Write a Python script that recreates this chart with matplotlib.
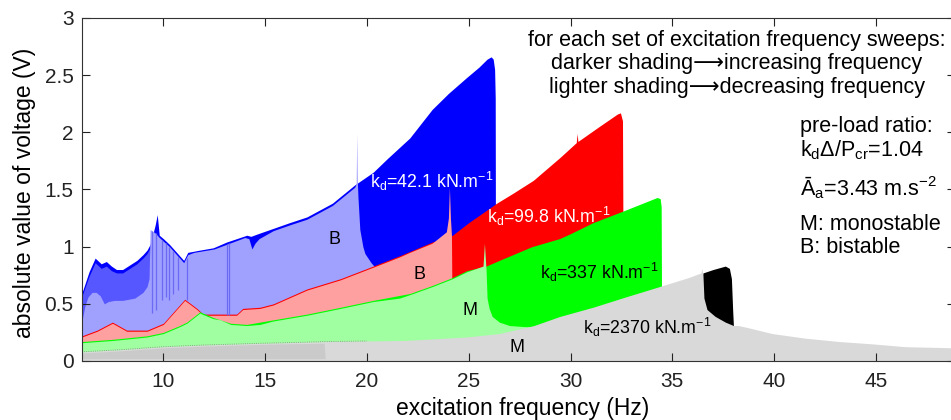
import numpy as np
import matplotlib
matplotlib.use("Agg")
import matplotlib.pyplot as plt

plt.rcParams['font.family'] = ['Liberation Sans', 'DejaVu Sans']
plt.rcParams['font.size'] = 14

# envelopes of |V| for each stiffness: "up" = increasing-frequency sweep, "down" = decreasing
# kd = 42.1 kN/m
blue_up_f = [6.0, 6.05, 6.35, 6.65, 6.95, 7.2, 7.45, 7.7, 8.0, 8.35, 8.7, 9.0, 9.2, 9.35, 9.5, 9.6,
             9.7, 9.8, 10.0, 10.3, 10.7, 11.0, 11.2, 11.8, 12.45, 13.1, 14.1, 14.3, 14.6, 15.4, 16.2,
             17.05, 18.3, 19.4, 20.3, 21.0, 22.1, 23.2, 24.0, 24.9, 25.5, 25.9, 26.1, 26.2, 26.27,
             26.3, 26.32]
blue_up_v = [0.60, 0.62, 0.78, 0.90, 0.85, 0.87, 0.83, 0.80, 0.80, 0.84, 0.88, 0.93, 0.97, 1.02, 1.12, 1.19,
             1.28, 1.10, 1.07, 1.02, 0.94, 0.88, 0.95, 0.97, 0.99, 1.04, 1.10, 1.09, 1.11, 1.16, 1.21,
             1.26, 1.38, 1.54, 1.65, 1.77, 1.95, 2.20, 2.34, 2.48, 2.57, 2.64, 2.66, 2.64, 2.55,
             2.30, 0.0]
# oscillating part of the down sweep below 9.35 Hz (drawn half-transparent)
blue_band_f = [6.0, 6.05, 6.35, 6.65, 6.95, 7.2, 7.45, 7.7, 8.0, 8.35, 8.7, 9.0, 9.2, 9.35]
blue_band_v = [0.57, 0.59, 0.74, 0.86, 0.81, 0.83, 0.79, 0.77, 0.77, 0.81, 0.85, 0.90, 0.94, 0.99]
blue_down_f = [6.0, 6.15, 6.3, 6.5, 6.7, 6.9, 7.1, 7.3, 7.6, 8.0, 8.6, 9.0, 9.2, 9.3, 9.35, 9.6,
               9.8, 10.3, 10.7, 11.0, 11.2, 11.5, 12.5, 13.1, 14.0, 14.2, 14.35, 14.5, 14.7, 15.4, 16.2,
               17.05, 18.3, 19.4, 19.47, 19.5, 19.53, 19.56, 19.65, 19.8, 19.9, 20.2, 20.5, 21.0, 21.5]
blue_down_v = [0.35, 0.48, 0.56, 0.60, 0.60, 0.57, 0.50, 0.52, 0.53, 0.53, 0.55, 0.60, 0.65, 0.72, 1.15, 1.12,
               1.08, 1.00, 0.92, 0.86, 0.93, 0.95, 0.98, 1.02, 1.08, 1.07, 0.98, 1.03, 1.07, 1.14, 1.19,
               1.24, 1.36, 1.52, 1.55, 1.99, 1.56, 1.43, 1.15, 1.00, 0.94, 0.86, 0.80, 0.70, 0.0]
# drop-outs in the down sweep
blue_drop_f = [9.43, 9.64, 9.92, 10.13, 10.29, 10.49, 10.74, 11.15, 13.11, 13.24]
blue_drop_lo = [0.42, 0.45, 0.53, 0.56, 0.53, 0.59, 0.62, 0.53, 0.40, 0.40]
blue_drop_hi = [1.14, 1.12, 1.06, 1.03, 1.00, 0.96, 0.91, 0.90, 1.02, 1.03]

# kd = 99.8 kN/m
red_up_f = [6.0, 6.75, 7.5, 8.2, 9.2, 10.0, 10.65, 11.05, 11.65, 11.95, 13.6, 13.9, 14.75, 15.4, 17.05,
            18.7, 20.3, 21.6, 23.2, 24.2, 25.0, 26.37, 27.2, 28.17, 29.48, 30.28, 30.32, 30.36, 31.4,
            32.3, 32.45, 32.55, 32.6]
red_up_v = [0.22, 0.27, 0.34, 0.27, 0.27, 0.33, 0.46, 0.54, 0.46, 0.41, 0.41, 0.46, 0.47, 0.50, 0.63,
            0.72, 0.83, 0.92, 1.04, 1.10, 1.21, 1.38, 1.47, 1.58, 1.78, 1.91, 1.99, 1.92, 2.05,
            2.16, 2.17, 2.10, 0.0]
red_down_f = [6.0, 6.75, 7.5, 8.2, 9.2, 10.0, 10.65, 11.05, 11.65, 11.95, 12.8, 13.6, 13.9, 14.75, 15.4,
              17.05, 18.7, 20.3, 21.6, 22.1, 23.2, 23.9, 24.0, 24.05, 24.1, 24.15, 24.2]
red_down_v = [0.21, 0.26, 0.33, 0.26, 0.26, 0.32, 0.45, 0.53, 0.45, 0.40, 0.40, 0.40, 0.45, 0.46, 0.49,
              0.62, 0.71, 0.82, 0.91, 0.95, 1.03, 1.13, 1.25, 1.52, 1.25, 1.10, 0.0]

# kd = 337 kN/m
green_up_f = [6.0, 7.55, 9.2, 10.0, 10.8, 11.15, 11.8, 12.45, 13.3, 14.1, 15.4, 17.05, 18.7, 20.3,
              22.1, 23.2, 24.2, 24.9, 25.85, 26.5, 27.3, 28.1, 29.45, 29.95, 31.1, 32.7, 34.25, 34.4,
              34.45, 34.48]
green_up_v = [0.17, 0.19, 0.22, 0.25, 0.31, 0.34, 0.43, 0.38, 0.33, 0.32, 0.36, 0.41, 0.47, 0.53,
              0.59, 0.66, 0.73, 0.79, 0.83, 0.88, 0.94, 1.00, 1.07, 1.11, 1.21, 1.32, 1.43, 1.42,
              1.35, 0.0]
green_down_f = [6.0, 7.55, 9.2, 10.0, 10.8, 11.15, 11.8, 11.9, 12.45, 12.8, 13.3, 14.1, 14.75, 15.4,
                17.05, 18.7, 20.3, 21.6, 22.1, 23.2, 24.2, 24.9, 25.7, 25.77, 25.82, 25.85, 25.9, 26.0,
                26.15, 26.5, 27.0, 27.8, 28.5, 28.6]
green_down_v = [0.16, 0.18, 0.21, 0.24, 0.30, 0.33, 0.42, 0.41, 0.37, 0.36, 0.32, 0.31, 0.32, 0.35,
                0.40, 0.46, 0.52, 0.55, 0.58, 0.65, 0.72, 0.78, 0.83, 1.03, 0.88, 0.80, 0.55, 0.46,
                0.39, 0.34, 0.31, 0.30, 0.30, 0.0]

# kd = 2370 kN/m
black_up_f = [36.45, 36.5, 37.0, 37.6, 37.8, 37.9, 37.96, 38.0]
black_up_v = [0.74, 0.77, 0.80, 0.83, 0.81, 0.72, 0.45, 0.30]
grey_down_f = [6.0, 8.0, 10.0, 12.0, 14.75, 16.0, 18.0, 20.0, 21.9, 24.9, 26.5, 28.2, 29.48, 31.1,
               32.7, 34.35, 35.8, 36.4, 36.45, 36.5, 36.55, 36.7, 37.1, 37.6, 38.0, 38.25, 38.75,
               39.9, 41.5, 43.2, 44.8, 46.45, 48.9]
grey_down_v = [0.08, 0.10, 0.125, 0.14, 0.155, 0.16, 0.17, 0.175, 0.18, 0.21, 0.24, 0.31, 0.39, 0.47,
               0.56, 0.65, 0.73, 0.77, 0.81, 0.76, 0.55, 0.45, 0.39, 0.34, 0.31, 0.31, 0.29,
               0.24, 0.20, 0.17, 0.15, 0.125, 0.115]
# noisy low-frequency part of the 2370 kN/m sweeps
grey_noise_f = [6.0, 8.0, 10.0, 12.0, 14.75, 16.0, 17.9, 17.95]
grey_noise_v = [0.07, 0.09, 0.115, 0.13, 0.145, 0.15, 0.155, 0.02]

x_ticks = [10, 15, 20, 25, 30, 35, 40, 45]
y_ticks = [0, 0.5, 1, 1.5, 2, 2.5, 3]
y_tick_labels = ['0', '0.5', '1', '1.5', '2', '2.5', '3']

fig = plt.figure(figsize=(9.51, 4.2), dpi=100)
ax = fig.add_axes([0.0861, 0.1405, 0.9181, 0.8167])

ax.fill_between(blue_up_f, 0, blue_up_v, color='#0000ff', lw=0)
ax.fill_between(blue_band_f, 0, blue_band_v, color='#a0a0ff', alpha=0.55, lw=0)
ax.fill_between(blue_down_f, 0, blue_down_v, color='#a0a0ff', lw=0)
ax.vlines(blue_drop_f, blue_drop_lo, blue_drop_hi, color='#6a6af2', lw=0.9)
ax.fill_between(red_up_f, 0, red_up_v, color='#ff0000', lw=0)
ax.fill_between(red_down_f, 0, red_down_v, color='#ffa0a0', lw=0)
ax.fill_between(green_up_f, 0, green_up_v, color='#00ff00', lw=0)
ax.fill_between(green_down_f, 0, green_down_v, color='#a0ffa0', lw=0)
ax.fill_between(black_up_f, 0, black_up_v, color='#000000', lw=0)
ax.fill_between(grey_down_f, 0, grey_down_v, color='#d9d9d9', lw=0)
ax.fill_between(grey_noise_f, 0.02, grey_noise_v, color='#b8b8b8', alpha=0.45, lw=0)
ax.plot(grey_down_f[:8], grey_down_v[:8], color='#888888', lw=0.6, ls=':')

ax.set_xlim(6, 48.88)
ax.set_ylim(0, 3)
ax.set_xticks(x_ticks)
ax.set_yticks(y_ticks)
ax.set_yticklabels(y_tick_labels)
ax.tick_params(direction='in', length=6, width=0.8, top=True, right=True, labelsize=15, colors='#222222')
ax.tick_params(axis='x', pad=8)
ax.tick_params(axis='y', pad=6)
for s in ax.spines.values():
    s.set_color('#333333')
    s.set_linewidth(0.8)

ax.set_xlabel('excitation frequency (Hz)', fontsize=16.5)
ax.set_ylabel('absolute value of voltage (V)', fontsize=16.5)
ax.xaxis.set_label_coords(0.505, -0.105)
ax.yaxis.set_label_coords(-0.053, 0.49)

# curve labels
lab = dict(fontsize=12.8, va='center', ha='left')
ax.text(20.15, 1.566, r'k$_\mathregular{d}$=42.1 kN.m$^\mathregular{-1}$', color='white', **lab)
ax.text(25.9, 1.26, r'k$_\mathregular{d}$=99.8 kN.m$^\mathregular{-1}$', color='white', **lab)
ax.text(28.5, 0.77, r'k$_\mathregular{d}$=337 kN.m$^\mathregular{-1}$', color='black', **lab)
ax.text(30.6, 0.29, r'k$_\mathregular{d}$=2370 kN.m$^\mathregular{-1}$', color='black', **lab)
ax.text(18.43, 1.06, 'B', fontsize=13, ha='center', va='center')
ax.text(22.56, 0.76, 'B', fontsize=13, ha='center', va='center')
ax.text(25.06, 0.44, 'M', fontsize=13, ha='center', va='center')
ax.text(27.37, 0.12, 'M', fontsize=13, ha='center', va='center')

note = dict(fontsize=15.5, ha='center', va='center')
ax.text(38.17, 2.80, 'for each set of excitation frequency sweeps:', **note)
ax.text(38.17, 2.60, 'darker shading\u27f6increasing frequency', **note)
ax.text(38.17, 2.39, 'lighter shading\u27f6decreasing frequency', **note)

info = dict(fontsize=15.5, va='center')
ax.text(41.26, 2.055, 'pre-load ratio:', **info)
ax.text(41.26, 1.845, r'k$_\mathregular{d}$Δ/P$_\mathregular{cr}$=1.04', **info)
ax.text(41.26, 1.513, r'Ā$_\mathregular{a}$=3.43 m.s$^\mathregular{-2}$', **info)
ax.text(41.26, 1.19, 'M: monostable', **info)
ax.text(41.26, 0.99, 'B: bistable', **info)

fig.savefig('out.png', dpi=100)
